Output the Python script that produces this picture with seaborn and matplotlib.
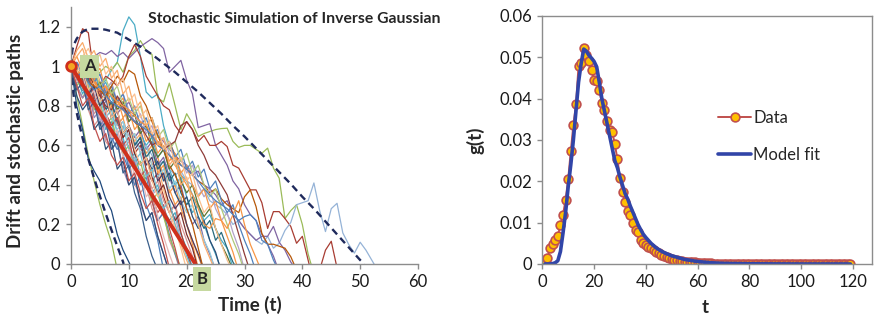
import numpy as np
import pandas as pd
import matplotlib
matplotlib.use("Agg")
import matplotlib.pyplot as plt
import seaborn as sns

sns.set_style("white")
plt.rcParams['font.family'] = ['Lato', 'DejaVu Sans']

# ---------------- Left panel data ----------------
drift_t = [0, 21.5]
drift_v = [1.0, 0.0]

env_up_t = [0, 0.25, 0.5, 1, 1.5, 2, 3, 4, 5, 6, 8, 10, 12, 14, 16, 18, 20, 22, 24, 26,
            28, 30, 32, 34, 36, 38, 40, 42, 44, 46, 48, 50, 50.7]
env_up_v = [1.0, 1.085, 1.11, 1.14, 1.16, 1.175, 1.19, 1.19, 1.19, 1.185, 1.17, 1.135, 1.10,
            1.06, 1.015, 0.97, 0.92, 0.87, 0.815, 0.76, 0.70, 0.645, 0.585, 0.525, 0.465,
            0.405, 0.34, 0.28, 0.215, 0.15, 0.085, 0.02, 0.0]
env_lo_t = [0, 0.25, 0.5, 1, 1.5, 2, 3, 4, 5, 6, 7, 8, 9, 9.1]
env_lo_v = [1.0, 0.894, 0.843, 0.764, 0.698, 0.638, 0.531, 0.434, 0.343, 0.255, 0.172, 0.09, 0.011, 0.0]

# stochastic paths: values at t = 0, 1, 2, ...
p01 = [1, .85, .70, .55, .42, .30, .20, .11, -.03]
p02 = [1, .80, .68, .53, .47, .42, .33, .27, .15, .07, .01, -.05]
p03 = [1, .88, .92, .78, .70, .74, .62, .58, .62, .48, .52, .40, .36, .40, .28, .22, .26, .12, .05, -.05]
p04 = [1, .92, .96, .80, .85, .70, .74, .62, .66, .55, .48, .52, .40, .44, .32, .22, .26, .15, .05, -.03]
p05 = [1, .95, .86, .92, .78, .82, .68, .72, .60, .64, .52, .56, .45, .48, .36, .40, .28, .22, .26, .15, .08, -.02]
p06 = [1, .90, .95, .82, .86, .72, .76, .64, .58, .62, .50, .54, .42, .46, .35, .38, .28, .20, .24, .12, .05, -.05]
p07 = [1, .98, .92, .96, .84, .88, .76, .80, .70, .74, .62, .66, .56, .60, .50, .54, .44, .36, .40, .28, .20, .10, -.02]
p08 = [1, 1.10, 1.19, 1.17, .95, .85, .88, .74, .78, .64, .68, .56, .60, .48, .42, .46, .34, .26, .30, .16, .06, -.03]
p09 = [1, .95, .98, .92, .96, .90, .93, .98, 1.02, 1.18, 1.25, 1.21, 1.05, .87, .84, .86, .70, .60,
       .55, .45, .42, .35, .30, .22, .25, .18, .12, .08, -.02]
p10 = [1, .90, .95, .88, .93, .97, 1.0, .98, 1.02, .97, 1.05, 1.08, 1.13, 1.08, 1.06, .84, .82, .915,
       .80, .68, .76, .71, .645, .66, .67, .68, .685, .687, .62, .59, .60, .60, .58, .56, .586, .485,
       .434, .23, .27, .30, .20, .05, -.05]
p11 = [1, 1.02, .98, 1.04, 1.05, 1.07, 1.06, 1.08, 1.05, 1.07, 1.04, 1.07, 1.10, 1.12, 1.14, 1.12,
       1.09, .97, 1.0, 1.03, .93, .86, .69, .70, .71, .60, .55, .50, .42, .38, .30, .25, .22, .15,
       .10, .04, -.04]
p12 = [1, .95, 1.0, .92, .97, .90, .95, .93, .90, .95, 1.05, 1.11, 1.05, .95, .90, .85, .80, .78,
       .70, .66, .72, .68, .62, .65, .60, .60, .62, .594, .50, .485, .43, .375, .375, .31, .18, .265,
       .265, .23, .19, .105, .14, .02, -.10, -.03, .07, .115, -.02]
p13 = [1, .95, .90, .92, .85, .80, .82, .75, .70, .72, .65, .62, .58, .60, .55, .50, .52, .48, .45,
       .47, .42, .40, .35, .38, .32, .30, .28, .25, .20, .22, .18, .15, .12, .10, .14, .08, .105, .17,
       .21, .30, .31, .32, .41, .27, .164, .28, .307, .157, .10, .055, .11, .07, .02, -.03]
p14 = [1, .97, .93, .98, .90, .92, .85, .88, .80, .78, .82, .75, .72, .70, .74, .65, .62, .58, .55,
       .52, .50, .45, .47, .40, .38, .35, .30, .32, .25, .22, .18, .15, .12, .14, .14, .19, .11, .07,
       .01, -.03]
p15 = [1, .95, .98, .90, .92, .88, .85, .80, .83, .78, .75, .72, .68, .70, .64, .60, .58, .62, .55,
       .50, .48, .45, .42, .40, .36, .38, .33, .30, .28, .26, .34, .375, .29, .155, .10, .10, .09,
       .08, .037, -.03]
p16 = [1, .92, .95, .82, .86, .74, .78, .64, .58, .62, .48, .40, .44, .30, .22, .12, -.03]
p17 = [1, 1.05, .98, 1.04, .95, .99, .88, .92, .80, .84, .72, .76, .64, .56, .60, .46, .50, .38, .30,
       .34, .20, .12, .04, -.04]
p18 = [1, .96, .90, .97, .88, .92, .82, .86, .76, .80, .70, .64, .68, .58, .62, .50, .54, .44, .36,
       .40, .28, .20, .24, .12, .05, -.03]
p19 = [1, .90, .84, .90, .78, .82, .70, .74, .62, .56, .60, .48, .52, .40, .32, .36, .24, .14, .06, -.02]
p20 = [1, .98, 1.03, .94, .98, .88, .92, .84, .78, .82, .72, .76, .66, .60, .64, .54, .58, .48, .40,
       .44, .34, .26, .30, .20, .12, .05, -.03]
p21 = [1, .95, .88, .92, .84, .88, .78, .82, .72, .66, .70, .60, .64, .54, .48, .52, .42, .46, .36,
       .30, .34, .24, .18, .22, .12, .06, -.04]
p22 = [1, .90, .84, .88, .76, .80, .70, .64, .68, .58, .62, .50, .44, .48, .38, .42, .32, .26, .30,
       .20, .12, .04, -.03]
p23 = [1, 1.05, 1.09, 1.0, 1.04, .92, .86, .90, .78, .82, .70, .62, .66, .54, .46, .50, .38, .30,
       .20, .10, .02, -.05]
p24 = [1, .95, .88, .92, .82, .86, .76, .70, .74, .64, .68, .56, .50, .54, .44, .36, .40, .30, .22,
       .26, .15, .08, -.03]
p25 = [1, .93, .97, .86, .90, .80, .84, .74, .68, .72, .62, .66, .56, .60, .50, .44, .48, .38, .42,
       .32, .26, .30, .20, .12, .06, -.04]
p26 = [1, .98, .93, .98, .88, .92, .84, .88, .78, .82, .72, .76, .66, .70, .60, .54, .58, .48, .52,
       .42, .36, .40, .30, .24, .28, .18, .10, .04, -.03]
p27 = [1, 1.02, .96, 1.0, .92, .96, .88, .92, .82, .86, .78, .72, .76, .66, .70, .60, .64, .56, .50,
       .54, .46, .50, .40, .34, .38, .28, .22, .26, .16, .08, -.03]
p28 = [1, .95, .99, .90, .94, .86, .90, .80, .84, .74, .78, .68, .72, .62, .66, .56, .60, .52, .56,
       .46, .50, .40, .34, .38, .28, .32, .22, .14, .06, -.04]
p29 = [1, 1.02, .96, 1.0, .92, .96, .86, .90, .82, .86, .76, .80, .70, .74, .64, .68, .58, .62, .54,
       .58, .48, .52, .44, .48, .38, .42, .32, .26, .30, .20, .12, .05, -.04]
p30 = [1, .95, .90, .94, .84, .88, .78, .82, .72, .66, .70, .60, .64, .54, .58, .48, .52, .42, .46,
       .36, .30, .34, .24, .18, .22, .12, .16, .08, .01, -.04]
p31 = [1, .98, .92, .96, .84, .88, .76, .70, .74, .60, .64, .50, .44, .48, .34, .26, .30, .18, .08, -.04]
p32 = [1, .90, .84, .88, .74, .78, .64, .58, .62, .48, .40, .44, .30, .22, .26, .14, .05, -.04]
p33 = [1, .95, 1.0, .95, .99, .90, .94, .86, .90, .80, .84, .76, .80, .70, .74, .64, .68, .58, .62,
       .52, .56, .46, .50, .40, .34, .38, .28, .20, .12, .05, -.04]
p34 = [1, .95, .88, .92, .80, .84, .74, .78, .66, .70, .58, .52, .56, .44, .48, .36, .28, .32, .20,
       .12, .04, -.03]
p35 = [1, .95, .92, .98, .90, .85, .80, .78, .85, .80, .75, .72, .70, .65, .60, .62, .58, .60, .62,
       .70, .72, .68, .60, .55, .48, .45, .40, .35, .25, .15, .05, -.04]
p36 = [1, .92, .96, .86, .90, .80, .84, .74, .78, .66, .70, .58, .62, .50, .54, .42, .46, .34, .28,
       .32, .20, .12, .05, -.03]
p37 = [1, .95, .99, .88, .92, .82, .86, .74, .78, .66, .70, .58, .50, .54, .42, .34, .38, .26, .18, .08, -.03]
p38 = [1, .95, .98, .92, .90, .88, .85, .90, .95, .92, .98, .96, .85, .80, .72, .65, .58, .50, .45,
       .38, .28, .20, .08, -.04]
p39 = [1, .88, .92, .78, .82, .68, .72, .58, .62, .46, .50, .36, .28, .14, .04, -.03]
p40 = [1, .92, .96, .84, .88, .74, .78, .64, .68, .54, .58, .44, .48, .34, .38, .24, .14, .05, -.03]
p41 = [1, .98, .95, .97, .92, .88, .90, .85, .82, .80, .78, .75, .72, .70, .65, .62, .58, .55, .50,
       .45, .40, .35, .28, .20, .18, .23, .22, .18, .25, .32, .20, .10, .03, -.04]
p42 = [1, .95, .97, .92, .88, .90, .85, .82, .80, .78, .75, .72, .70, .68, .65, .60, .58, .55, .52,
       .50, .48, .45, .42, .38, .35, .32, .30, .28, .25, .22, .24, .25, .22, .12, .10, .02, -.04]
p43 = [1, 1.08, 1.12, 1.04, 1.08, 1.0, 1.04, .94, .98, .86, .90, .78, .82, .70, .74, .60, .64, .50,
       .54, .40, .44, .30, .20, .10, .03, -.04]
p44 = [1, .96, 1.05, 1.09, 1.02, 1.06, .96, 1.0, .90, .94, .82, .86, .74, .78, .66, .70, .58, .62,
       .50, .54, .42, .46, .34, .26, .30, .18, .10, .02, -.04]
p45 = [1, .85, .78, .82, .68, .72, .58, .62, .48, .52, .40, .44, .32, .22, .26, .14, .05, -.04]
p46 = [1, .90, .80, .84, .70, .62, .66, .55, .50, .54, .42, .46, .36, .28, .32, .20, .10, -.02]

path_lists = [p01, p02, p03, p04, p05, p06, p07, p08, p09, p10, p11, p12, p13, p14, p15, p16,
              p17, p18, p19, p20, p21, p22, p23, p24, p25, p26, p27, p28, p29, p30, p31, p32,
              p33, p34, p35, p36, p37, p38, p39, p40, p41, p42, p43, p44, p45, p46]
path_colors = ['#9BBB59', '#1F497D', '#D99694', '#4F81BD', '#4BACC6', '#B3A2C7', '#F79646',
               '#A83C32', '#4BACC6', '#9BBB59', '#8064A2', '#A83C32', '#95B3D7', '#8064A2',
               '#B65708', '#4F81BD', '#F79646', '#8064A2', '#9BBB59', '#4BACC6', '#2C4D75',
               '#D99694', '#F9AB6B', '#772C2A', '#93CDDD', '#5F7530', '#B3A2C7', '#F79646',
               '#4F81BD', '#276A7C', '#C0504D', '#9983B5', '#AFC97A', '#6FBDD1', '#8E3B38',
               '#4D3B62', '#FAC090', '#B65708', '#3A5F8B', '#E6B9B8', '#F79646', '#4F81BD',
               '#F9AB6B', '#FAC090', '#2C4D75', '#C0504D']

# ---------------- Right panel data ----------------
t_data = list(range(1, 120))
g_data = [0, 0.0015, 0.0038, 0.0048, 0.0057, 0.0068, 0.0094, 0.0119, 0.0156, 0.0205,
          0.0273, 0.0336, 0.0386, 0.0480, 0.0487, 0.0522, 0.0506, 0.0490, 0.0470, 0.0445,
          0.0442, 0.0420, 0.0390, 0.0372, 0.0347, 0.0324, 0.0320, 0.0290, 0.0254, 0.0207,
          0.0173, 0.0150, 0.0128, 0.0118, 0.0100, 0.0082, 0.0077, 0.0058, 0.0052, 0.0046,
          0.0042, 0.0038, 0.0034, 0.0030, 0.0026, 0.0022, 0.0019, 0.0016, 0.0014, 0.0012,
          0.0010, 0.0009, 0.0008, 0.0007, 0.0006, 0.0006, 0.0005, 0.0004, 0.0004, 0.0003,
          0.0003, 0.0002, 0.0002, 0.0002, 0.0002, 0.0001, 0.0001, 0.0001, 0.0001, 0.0001,
          0.0001, 0.0001, 0.0001, 0.0001, 0.0001, 0.0001, 0.0001, 0.0001, 0.0001, 0.0001,
          0, 0, 0, 0, 0, 0, 0, 0, 0, 0,
          0, 0, 0, 0, 0, 0, 0, 0, 0, 0,
          0, 0, 0, 0, 0, 0, 0, 0, 0, 0,
          0, 0, 0, 0, 0, 0, 0, 0, 0]
t_model = [1, 2, 3, 4, 5, 6, 7, 8, 9, 10, 11, 12, 13, 14, 15, 16, 17, 18, 19, 20, 21, 22, 23,
           24, 25, 26, 27, 28, 29, 30, 31, 32, 33, 34, 35, 36, 37, 38, 39, 40, 42, 44, 46, 48,
           50, 55, 60, 65, 70, 80, 90, 100, 119]
g_model = [0, 0, 0, 0.0001, 0.0003, 0.0008, 0.0030, 0.0075, 0.0125, 0.0187, 0.0240, 0.0300,
           0.0370, 0.0440, 0.0485, 0.0520, 0.0515, 0.0505, 0.0498, 0.0490, 0.0477, 0.0440,
           0.0400, 0.0370, 0.0340, 0.0310, 0.0280, 0.0250, 0.0233, 0.0210, 0.0190, 0.0170,
           0.0157, 0.0140, 0.0125, 0.0110, 0.0095, 0.0083, 0.0072, 0.0064, 0.0050, 0.0039,
           0.0031, 0.0025, 0.0020, 0.0011, 0.0006, 0.0003, 0.00015, 0.00005, 0.00002, 0, 0]

# ---------------- Figure ----------------
fig = plt.figure(figsize=(8.75, 3.2), dpi=100)
axL = fig.add_axes([71 / 875, 56 / 320, 347 / 875, 257 / 320])
axR = fig.add_axes([542.3 / 875, 56 / 320, 329.4 / 875, 248 / 320])

spine_col = '#8C8C8C'
tick_fs = 12
lab_fs = 13.5

# stochastic paths
rows = []
for i, vals in enumerate(path_lists):
    for t, v in enumerate(vals):
        rows.append((f"p{i:02d}", t, v))
df_paths = pd.DataFrame(rows, columns=['path', 't', 'v'])
pal = {f"p{i:02d}": c for i, c in enumerate(path_colors)}
sns.lineplot(data=df_paths, x='t', y='v', hue='path', palette=pal, estimator=None,
             sort=False, legend=False, linewidth=0.9, ax=axL)

# envelopes
sns.lineplot(x=env_up_t, y=env_up_v, color='#1F2A5C', linewidth=1.7, linestyle=(0, (3, 2)),
             estimator=None, sort=False, ax=axL)
sns.lineplot(x=env_lo_t, y=env_lo_v, color='#1F2A5C', linewidth=1.7, linestyle=(0, (3, 2)),
             estimator=None, sort=False, ax=axL)

# drift
sns.lineplot(x=drift_t, y=drift_v, color='#CF2F1C', linewidth=2.8, estimator=None, ax=axL)
axL.plot([0], [1], marker='o', markersize=7, markerfacecolor='#F5A623',
         markeredgecolor='#CF2F1C', markeredgewidth=2, clip_on=False, zorder=6)

axL.set_xlim(0, 60)
axL.set_ylim(0, 1.3)
axL.set_xticks([0, 10, 20, 30, 40, 50, 60])
axL.set_yticks([0, 0.2, 0.4, 0.6, 0.8, 1.0, 1.2])
axL.set_yticklabels(['0', '0.2', '0.4', '0.6', '0.8', '1', '1.2'])
for s in ['top', 'right']:
    axL.spines[s].set_visible(False)
for s in ['left', 'bottom']:
    axL.spines[s].set_color(spine_col)
    axL.spines[s].set_linewidth(1.0)
axL.tick_params(axis='both', which='both', direction='out', length=3.5, width=1.0,
                color=spine_col, labelsize=tick_fs, pad=4, labelcolor='#1a1a1a',
                left=True, bottom=True)
axL.set_xlabel('Time (t)', fontsize=lab_fs, fontweight='bold')
axL.set_ylabel('Drift and stochastic paths', fontsize=lab_fs, fontweight='bold')
axL.xaxis.set_label_coords(0.516, -0.125)
axL.yaxis.set_label_coords(-0.135, 0.48)

box_kw = dict(boxstyle='square,pad=0.22', facecolor='#C6D9A0', edgecolor='none')
axL.text(3.2, 1.0, 'A', fontsize=12, fontweight='bold', ha='center', va='center',
         bbox=box_kw, zorder=7, clip_on=False)
axL.text(22.6, -0.076, 'B', fontsize=12, fontweight='bold', ha='center', va='center',
         bbox=box_kw, zorder=7, clip_on=False)

fig.text(148 / 875, 1 - 19 / 320, 'Stochastic Simulation of Inverse Gaussian',
         fontsize=11.3, fontweight='bold', ha='left', va='center')

# right panel
sns.lineplot(x=t_data, y=g_data, color='#C0504D', linewidth=1.4, marker='o', markersize=6.3,
             markerfacecolor='#FFC000', markeredgecolor='#C0504D', markeredgewidth=1.2,
             estimator=None, sort=False, label='Data', ax=axR)
sns.lineplot(x=t_model, y=g_model, color='#3145A8', linewidth=2.6, estimator=None,
             sort=False, label='Model fit', ax=axR)
axR.set_xlim(0, 127.2)
axR.set_ylim(0, 0.06)
axR.set_xticks([0, 20, 40, 60, 80, 100, 120])
axR.set_yticks([0, 0.01, 0.02, 0.03, 0.04, 0.05, 0.06])
axR.set_yticklabels(['0', '0.01', '0.02', '0.03', '0.04', '0.05', '0.06'])
for s in axR.spines.values():
    s.set_visible(True)
    s.set_color(spine_col)
    s.set_linewidth(1.0)
axR.tick_params(axis='both', which='both', direction='out', length=3.5, width=1.0,
                color=spine_col, labelsize=tick_fs, pad=4, labelcolor='#1a1a1a',
                left=True, bottom=True)
axR.set_xlabel('t', fontsize=lab_fs, fontweight='bold')
axR.set_ylabel('g(t)', fontsize=lab_fs, fontweight='bold')
axR.xaxis.set_label_coords(0.496, -0.141)
axR.yaxis.set_label_coords(-0.174, 0.5)

leg = axR.legend(loc='upper left', bbox_to_anchor=(718 / 875, 1 - 110 / 320),
                 bbox_transform=fig.transFigure, frameon=False, fontsize=12,
                 handlelength=2.0, handletextpad=0.12, labelspacing=1.25,
                 borderpad=0, borderaxespad=0)

fig.savefig('out.png', dpi=100)
